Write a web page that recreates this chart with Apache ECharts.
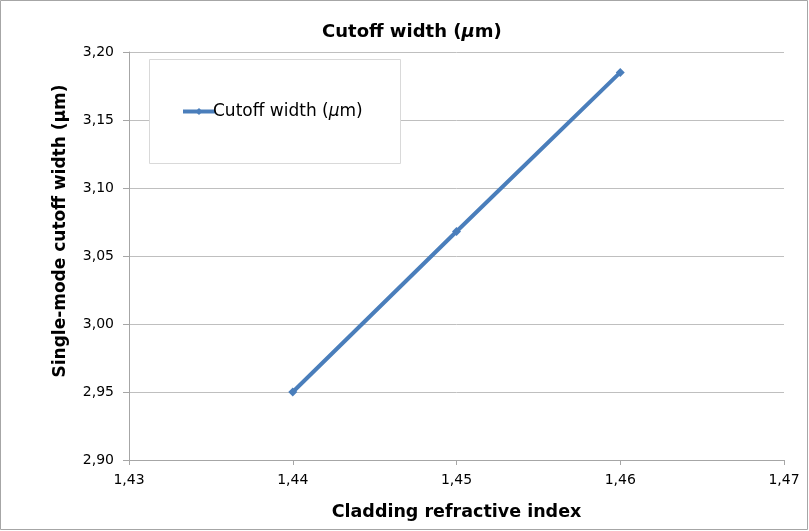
<!DOCTYPE html>
<html><head><meta charset="utf-8">
<script src="https://cdn.jsdelivr.net/npm/echarts@6/dist/echarts.min.js"></script>
<style>html,body{margin:0;padding:0;background:#fff}#c{width:809px;height:531px}</style>
</head><body><div id="c"></div>
<script>
var xValues = [1.44, 1.45, 1.46];
var yValues = [2.95, 3.068, 3.185];
var seriesName = 'Cutoff width (μm)';
var titleText = 'Cutoff width (';
var xAxisName = 'Cladding refractive index';
var yAxisName = 'Single-mode cutoff width (μm)';

var FONT = 'DejaVu Sans';
var chart = echarts.init(document.getElementById('c'));
function fmt(v, d){ return v.toFixed(d).replace('.', ','); }
chart.setOption({
  animation: false,
  graphic: [
    {type:'rect', shape:{x:0.5,y:0.5,width:807,height:529}, style:{fill:'none', stroke:'#a6a6a6', lineWidth:1}, z:-1},
    {type:'rect', shape:{x:149.5,y:59.5,width:251,height:104}, style:{fill:'#fff', stroke:'#d9d9d9', lineWidth:1}, z:5}
  ],
  title: {
    text: '{a|' + titleText + '}{i|μ}{a|m)}',
    left: 317, top: 18,
    textStyle: {rich: {
      a: {fontFamily: FONT, fontWeight: 'bold', fontSize: 18, color: '#000'},
      i: {fontFamily: FONT, fontWeight: 'bold', fontStyle: 'italic', fontSize: 18, color: '#000'}
    }}
  },
  legend: {
    left: 181, top: 103, z: 10, padding: 0,
    itemWidth: 32, itemHeight: 9, itemGap: 0,
    lineStyle: {width: 4},
    textStyle: {fontFamily: FONT, fontSize: 17, color: '#000', padding:[0,0,0,-7],
      rich: {a: {fontFamily: FONT, fontSize: 17, color: '#000'}, i: {fontFamily: FONT, fontSize: 17, fontStyle: 'italic', color: '#000'}}},
    data: [{name: seriesName}],
    formatter: function(n){ return '{a|Cutoff width (}{i|μ}{a|m)}'; }
  },
  grid: {left: 129, right: 25, top: 52, bottom: 71},
  xAxis: {
    type: 'value', min: 1.43, max: 1.47, interval: 0.01,
    name: xAxisName, nameLocation: 'middle', nameGap: 43,
    nameTextStyle: {fontFamily: FONT, fontWeight: 'bold', fontSize: 17.5, color: '#000'},
    axisLine: {lineStyle: {color: '#a6a6a6'}},
    axisTick: {show: true, length: 5, lineStyle: {color: '#a6a6a6'}},
    axisLabel: {fontFamily: FONT, fontSize: 14, color: '#000', margin: 13, formatter: function(v){return fmt(v,2);}},
    splitLine: {show: false}
  },
  yAxis: {
    type: 'value', min: 2.90, max: 3.20, interval: 0.05,
    name: yAxisName, nameLocation: 'middle', nameGap: 60,
    nameTextStyle: {fontFamily: FONT, fontWeight: 'bold', fontSize: 17, color: '#000', padding: [0,0,0,50]},
    axisLine: {show: true, lineStyle: {color: '#a6a6a6'}},
    axisTick: {show: true, length: 6, lineStyle: {color: '#a6a6a6'}},
    axisLabel: {fontFamily: FONT, fontSize: 14, color: '#000', margin: 15, formatter: function(v){return fmt(v,2);}},
    splitLine: {show: true, lineStyle: {color: '#bfbfbf'}}
  },
  series: [{
    name: seriesName, type: 'line',
    data: xValues.map(function(x,i){return [x, yValues[i]];}),
    symbol: 'diamond', symbolSize: 9,
    lineStyle: {color: '#4a7ebb', width: 4},
    itemStyle: {color: '#4a7ebb'}
  }]
});
</script></body></html>
